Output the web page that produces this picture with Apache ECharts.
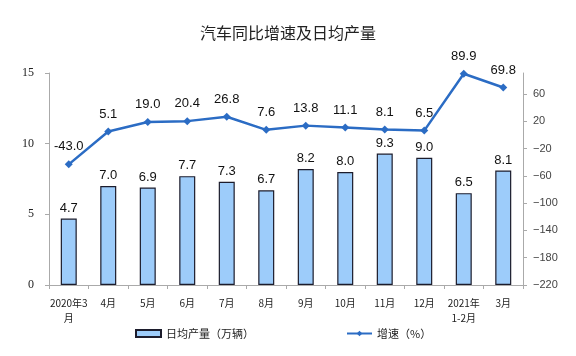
<!DOCTYPE html>
<html><head><meta charset="utf-8">
<script src="https://cdn.jsdelivr.net/npm/echarts@6/dist/echarts.min.js"></script>
<style>html,body{margin:0;padding:0;background:#fff}#c{width:576px;height:356px}</style>
</head><body><div id="c"></div>
<script>
const categories = ['2020年3\n月','4月','5月','6月','7月','8月','9月','10月','11月','12月','2021年\n1-2月','3月'];
const dailyOutput = [4.7,7.0,6.9,7.7,7.3,6.7,8.2,8.0,9.3,9.0,6.5,8.1];
const growth = [-43.0,5.1,19.0,20.4,26.8,7.6,13.8,11.1,8.1,6.5,89.9,69.8];
const leftTicks = [0,5,10,15];
const rightTicks = [-220,-180,-140,-100,-60,-20,20,60];

const chart = echarts.init(document.getElementById('c'));
chart.setOption({
  animation:false,
  backgroundColor:'#fff',
  title:{text:'汽车同比增速及日均产量',left:'center',top:20,
    textStyle:{fontSize:16,fontWeight:'normal',color:'#222',fontFamily:'Noto Sans CJK SC'}},
  legend:{bottom:12,left:130,itemGap:92,itemWidth:25,itemHeight:7,
    textStyle:{fontSize:11,color:'#222',fontFamily:'Noto Sans CJK SC'},
    data:[{name:'日均产量（万辆）',icon:'rect',itemStyle:{borderWidth:2}},{name:'增速（%）'}]},
  grid:{left:49,right:53,top:73,bottom:71},
  xAxis:{type:'category',data:categories,
    axisLine:{lineStyle:{color:'#aaa'}},
    axisTick:{show:true,length:4,lineStyle:{color:'#aaa'}},
    axisLabel:{color:'#222',fontSize:10,margin:11,lineHeight:15,interval:0,fontFamily:'Noto Sans CJK SC'}},
  yAxis:[
    {type:'value',min:0,max:15,interval:5,splitLine:{show:false},
      axisLine:{show:true,lineStyle:{color:'#aaa'}},
      axisTick:{show:true,length:4,lineStyle:{color:'#aaa'}},
      axisLabel:{color:'#222',fontSize:12,margin:15,fontFamily:'Liberation Serif',
        formatter:v=>leftTicks.includes(v)?String(v):''}},
    {type:'value',min:-220,max:91,interval:40,splitLine:{show:false},
      axisLine:{show:true,lineStyle:{color:'#aaa'}},
      axisTick:{show:true,length:4,lineStyle:{color:'#aaa'}},
      axisLabel:{color:'#444',fontSize:11,margin:10,showMaxLabel:false,fontFamily:'Liberation Sans',
        formatter:v=>rightTicks.includes(v)?String(v).replace('-','\u2212'):''}}
  ],
  series:[
    {name:'日均产量（万辆）',type:'bar',data:dailyOutput,barWidth:16,yAxisIndex:0,
      itemStyle:{color:'#9DCCFA',borderColor:'#1c1c2c',borderWidth:1.2},
      label:{show:true,position:'top',distance:4,fontSize:13,color:'#111',fontFamily:'Liberation Sans',
        formatter:p=>p.value.toFixed(1)}},
    {name:'增速（%）',type:'line',data:growth,yAxisIndex:1,
      symbol:'diamond',symbolSize:8,
      lineStyle:{color:'#2B6CC4',width:2.5},itemStyle:{color:'#2B6CC4'},
      label:{show:true,position:'top',distance:7,fontSize:13,color:'#111',fontFamily:'Liberation Sans',
        formatter:p=>p.value.toFixed(1)}}
  ]
});
</script></body></html>
